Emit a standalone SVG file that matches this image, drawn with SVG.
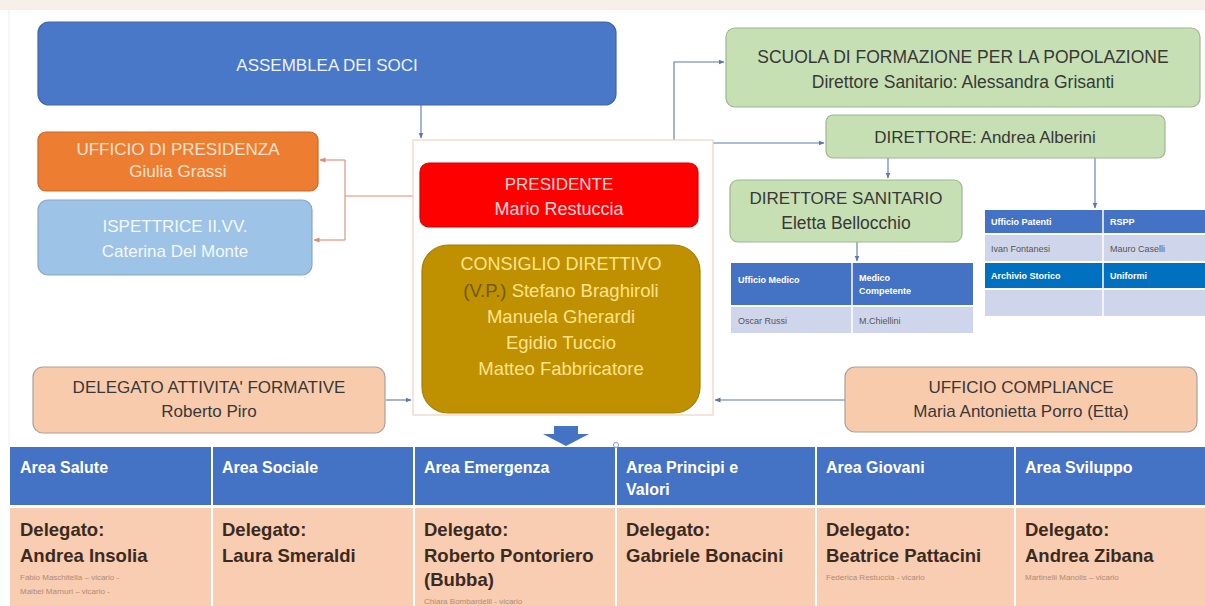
<svg xmlns="http://www.w3.org/2000/svg" width="1205" height="606" viewBox="0 0 1205 606">
<defs>
<style>
text{font-family:"Liberation Sans",Arial,sans-serif}
.c{text-anchor:middle}
.dk{fill:#383838}
.node{stroke-width:1.2}
.blue{fill:#4a78c8;stroke:#3f66ad}
.green{fill:#c6e0b4;stroke:#9fb694}
.peach{fill:#f8cbad;stroke:#a9a19b}
.conn{fill:none;stroke:#5b78b0;stroke-width:1.1}
.connr{fill:none;stroke:#d98b72;stroke-width:1.1}
.th{fill:#fff;font-weight:bold;font-size:9px}
.td{fill:#555;font-size:9px}
.hd{fill:#fff;font-weight:bold;font-size:16px}
.dl{fill:#3b2a1e;font-weight:bold;font-size:18.5px}
.sm{fill:#b08a78;font-size:8px}
</style>
<marker id="a" viewBox="0 0 6 6" refX="5.5" refY="3" markerWidth="6" markerHeight="6" markerUnits="userSpaceOnUse" orient="auto"><path d="M0,0.5 L6,3 L0,5.5 z" fill="#5b78b0"/></marker>
<marker id="ar" viewBox="0 0 6 6" refX="5.5" refY="3" markerWidth="6" markerHeight="6" markerUnits="userSpaceOnUse" orient="auto"><path d="M0,0.5 L6,3 L0,5.5 z" fill="#d98b72"/></marker>
</defs>
<rect x="0" y="0" width="1205" height="606" fill="#ffffff"/>
<rect x="0" y="0" width="1205" height="10" fill="#f6efea"/>
<line x1="9" y1="10" x2="9" y2="445" stroke="#eeeeee" stroke-width="1"/>

<g id="connectors">
<polyline class="conn" points="421,105 421,138" marker-end="url(#a)"/>
<polyline class="conn" points="674,140 674,62 724,62" marker-end="url(#a)"/>
<polyline class="conn" points="713,143 824,143" marker-end="url(#a)"/>
<polyline class="conn" points="888,158 888,178" marker-end="url(#a)"/>
<polyline class="conn" points="1095,158 1095,208" marker-end="url(#a)"/>
<polyline class="conn" points="857,242 857,261" marker-end="url(#a)"/>
<polyline class="connr" points="413,196 345,196"/>
<polyline class="connr" points="345,160 345,240"/>
<polyline class="connr" points="345,160 320,160" marker-end="url(#ar)"/>
<polyline class="connr" points="345,240 314,240" marker-end="url(#ar)"/>
<polyline class="conn" points="386,400 411,400" marker-end="url(#a)"/>
<polyline class="conn" points="845,400 715,400" marker-end="url(#a)"/>
<polygon points="554,426 578,426 578,434 589,434 566,446 543,434 554,434" fill="#4472c4"/>
</g>

<g id="assemblea">
<rect class="node blue" x="38" y="22" width="578" height="83" rx="11"/>
<text class="c" x="327" y="71" font-size="17" fill="#eef2fb">ASSEMBLEA DEI SOCI</text>
</g>

<g id="ufficio-presidenza">
<rect class="node" x="38" y="132" width="280" height="59" rx="8" fill="#ed7d31" stroke="#c9682a"/>
<text class="c" x="178" y="155" font-size="17" fill="#fbe3cf">UFFICIO DI PRESIDENZA</text>
<text class="c" x="178" y="177" font-size="17" fill="#fbe3cf">Giulia Grassi</text>
</g>

<g id="ispettrice">
<rect class="node" x="38" y="200" width="274" height="75" rx="10" fill="#9dc3e6" stroke="#86a8c8"/>
<text class="c" x="175" y="232" font-size="17" fill="#f3f8fd">ISPETTRICE II.VV.</text>
<text class="c" x="175" y="257" font-size="17" fill="#f3f8fd">Caterina Del Monte</text>
</g>

<g id="contenitore">
<rect x="413" y="140" width="300" height="275" fill="#ffffff" stroke="#f1d3c4" stroke-width="1.2"/>
</g>

<g id="presidente">
<rect class="node" x="420" y="163" width="278" height="64" rx="9" fill="#ff0000" stroke="#d80000"/>
<text class="c" x="559" y="190" font-size="17" fill="#ffd6d6">PRESIDENTE</text>
<text class="c" x="559" y="215" font-size="18" fill="#ffd6d6">Mario Restuccia</text>
</g>

<g id="consiglio">
<rect class="node" x="422" y="245" width="278" height="168" rx="26" fill="#bf9000" stroke="#a87f00"/>
<text class="c" x="561" y="270" font-size="18" fill="#ffe38a">CONSIGLIO DIRETTIVO</text>
<text class="c" x="561" y="297" font-size="18.5" fill="#ffe38a"><tspan fill="#6f5a10">(V.P.)</tspan> Stefano Braghiroli</text>
<text class="c" x="561" y="323" font-size="18.5" fill="#ffe38a">Manuela Gherardi</text>
<text class="c" x="561" y="349" font-size="18.5" fill="#ffe38a">Egidio Tuccio</text>
<text class="c" x="561" y="375" font-size="18.5" fill="#ffe38a">Matteo Fabbricatore</text>
</g>

<g id="scuola">
<rect class="node green" x="726" y="28" width="474" height="79" rx="9"/>
<text class="c dk" x="963" y="63" font-size="17.5">SCUOLA DI FORMAZIONE PER LA POPOLAZIONE</text>
<text class="c dk" x="963" y="88" font-size="17.5">Direttore Sanitario: Alessandra Grisanti</text>
</g>

<g id="direttore">
<rect class="node green" x="826" y="115" width="339" height="43" rx="7"/>
<text class="c dk" x="985" y="143" font-size="17">DIRETTORE: Andrea Alberini</text>
</g>

<g id="direttore-sanitario">
<rect class="node green" x="730" y="180" width="232" height="62" rx="8"/>
<text class="c dk" x="846" y="204" font-size="17">DIRETTORE SANITARIO</text>
<text class="c dk" x="846" y="229" font-size="17.5">Eletta Bellocchio</text>
</g>

<g id="tabella-sanitaria">
<rect x="731" y="263" width="242" height="42" fill="#4472c4"/>
<rect x="731" y="307" width="242" height="26" fill="#cfd5ea"/>
<line x1="852" y1="263" x2="852" y2="333" stroke="#ffffff" stroke-width="1.5"/>
<text class="th" x="738" y="283">Ufficio Medico</text>
<text class="th" x="859" y="281">Medico</text>
<text class="th" x="859" y="294">Competente</text>
<text class="td" x="738" y="324">Oscar Russi</text>
<text class="td" x="859" y="324">M.Chiellini</text>
</g>

<g id="tabella-direttore">
<rect x="985" y="210" width="220" height="23" fill="#4472c4"/>
<rect x="985" y="235" width="220" height="26" fill="#cfd5ea"/>
<rect x="985" y="263" width="220" height="25" fill="#0070c0"/>
<rect x="985" y="290" width="220" height="26" fill="#cfd5ea"/>
<line x1="1103" y1="210" x2="1103" y2="316" stroke="#ffffff" stroke-width="1.5"/>
<text class="th" x="991" y="225">Ufficio Patenti</text>
<text class="th" x="1110" y="225">RSPP</text>
<text class="td" x="991" y="252">Ivan Fontanesi</text>
<text class="td" x="1110" y="252">Mauro Caselli</text>
<text class="th" x="991" y="279">Archivio Storico</text>
<text class="th" x="1110" y="279">Uniformi</text>
</g>

<g id="delegato-formative">
<rect class="node peach" x="33" y="367" width="352" height="66" rx="10"/>
<text class="c dk" x="209" y="393" font-size="17">DELEGATO ATTIVITA' FORMATIVE</text>
<text class="c dk" x="209" y="417" font-size="17">Roberto Piro</text>
</g>

<g id="compliance">
<rect class="node peach" x="845" y="367" width="352" height="65" rx="10"/>
<text class="c dk" x="1021" y="393" font-size="17">UFFICIO COMPLIANCE</text>
<text class="c dk" x="1021" y="417" font-size="17">Maria Antonietta Porro (Etta)</text>
</g>

<g id="aree">
<rect x="10" y="447" width="1195" height="58" fill="#4472c4"/>
<rect x="10" y="508" width="1195" height="98" fill="#f8cdb2"/>
<line x1="10" y1="506.5" x2="1205" y2="506.5" stroke="#ffffff" stroke-width="3"/>
<g stroke="#ffffff" stroke-width="2">
<line x1="212" y1="447" x2="212" y2="606"/>
<line x1="414" y1="447" x2="414" y2="606"/>
<line x1="616" y1="447" x2="616" y2="606"/>
<line x1="816" y1="447" x2="816" y2="606"/>
<line x1="1015" y1="447" x2="1015" y2="606"/>
</g>
<circle cx="616" cy="445" r="2.5" fill="#ffffff" stroke="#8899bb" stroke-width="1"/>
<text class="hd" x="20" y="473">Area Salute</text>
<text class="hd" x="222" y="473">Area Sociale</text>
<text class="hd" x="424" y="473">Area Emergenza</text>
<text class="hd" x="626" y="473">Area Principi e</text>
<text class="hd" x="626" y="495">Valori</text>
<text class="hd" x="826" y="473">Area Giovani</text>
<text class="hd" x="1025" y="473">Area Sviluppo</text>

<text class="dl" x="20" y="536">Delegato:</text>
<text class="dl" x="20" y="562">Andrea Insolia</text>
<text class="sm" x="20" y="580">Fabio Maschitella – vicario -</text>
<text class="sm" x="20" y="594">Maibel Marnuri – vicario -</text>

<text class="dl" x="222" y="536">Delegato:</text>
<text class="dl" x="222" y="562">Laura Smeraldi</text>

<text class="dl" x="424" y="536">Delegato:</text>
<text class="dl" x="424" y="562">Roberto Pontoriero</text>
<text class="dl" x="424" y="586">(Bubba)</text>
<text class="sm" x="424" y="604">Chiara Bombardelli - vicario</text>

<text class="dl" x="626" y="536">Delegato:</text>
<text class="dl" x="626" y="562">Gabriele Bonacini</text>

<text class="dl" x="826" y="536">Delegato:</text>
<text class="dl" x="826" y="562">Beatrice Pattacini</text>
<text class="sm" x="826" y="580">Federica Restuccia - vicario</text>

<text class="dl" x="1025" y="536">Delegato:</text>
<text class="dl" x="1025" y="562">Andrea Zibana</text>
<text class="sm" x="1025" y="580">Martinelli Manolis – vicario</text>
</g>
</svg>
